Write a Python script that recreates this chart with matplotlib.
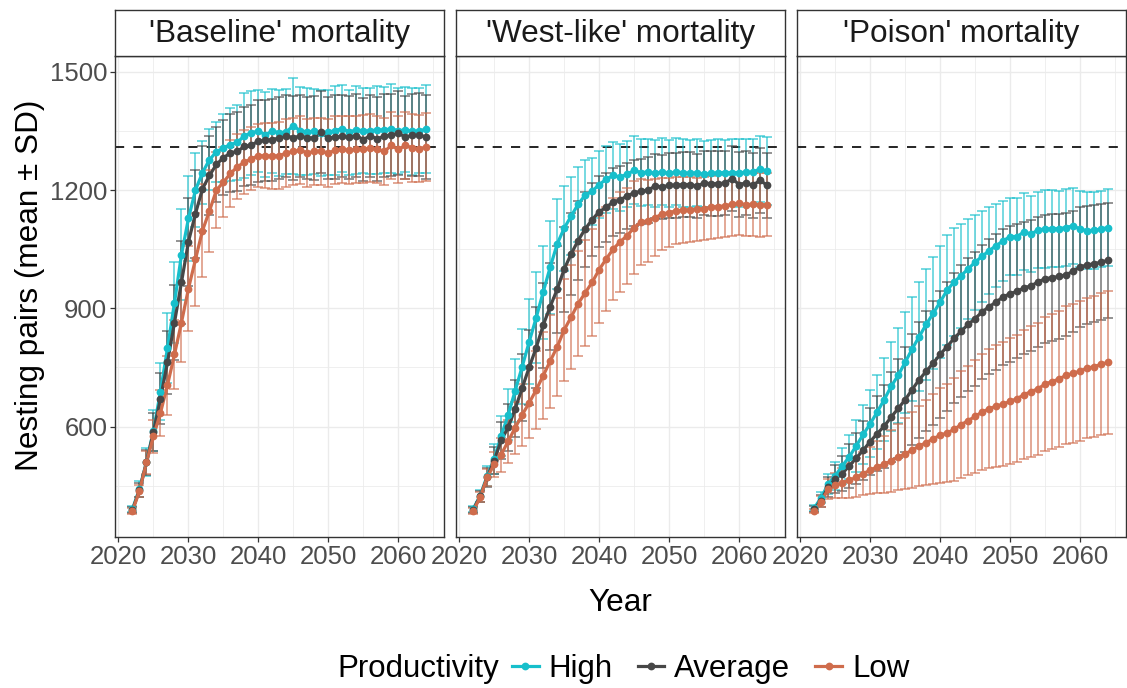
import matplotlib
matplotlib.use("Agg")
import matplotlib.pyplot as plt
from matplotlib.lines import Line2D
from matplotlib.ticker import MultipleLocator

plt.rcParams['font.family'] = ['Liberation Sans', 'DejaVu Sans']

years = list(range(2022, 2065))
panels = ["'Baseline' mortality", "'West-like' mortality", "'Poison' mortality"]
groups = ["High", "Average", "Low"]
colors = {"High": "#17BFCB", "Average": "#474747", "Low": "#CF6C4C"}
target = 1310

# ---- Baseline mortality ----
base_high = [391, 442, 510, 590, 689, 799, 914, 1036, 1128, 1200, 1244, 1277, 1297, 1307, 1315,
             1321, 1338, 1345, 1350, 1340, 1350, 1345, 1348, 1363, 1350, 1348, 1349, 1345, 1347,
             1351, 1356, 1347, 1353, 1350, 1350, 1353, 1352, 1356, 1350, 1353, 1349, 1350, 1355]
base_high_sd = [8, 20, 36, 53, 72, 88, 103, 115, 107, 94, 80, 78, 76, 86, 93, 95, 108, 106, 104,
                108, 106, 110, 108, 122, 112, 110, 108, 110, 108, 112, 110, 108, 112, 108, 110,
                112, 110, 112, 110, 108, 110, 108, 112]
base_avg = [389, 439, 509, 587, 671, 763, 864, 966, 1069, 1140, 1203, 1237, 1265, 1282, 1294,
            1298, 1311, 1314, 1324, 1326, 1328, 1332, 1338, 1332, 1338, 1332, 1332, 1346, 1332,
            1334, 1336, 1334, 1338, 1328, 1338, 1329, 1338, 1339, 1345, 1334, 1339, 1340, 1334]
base_avg_sd = [8, 18, 32, 48, 64, 80, 94, 105, 112, 112, 108, 100, 95, 95, 98, 100, 100, 102,
               104, 103, 104, 105, 104, 106, 104, 105, 106, 104, 105, 106, 104, 105, 106, 105,
               104, 106, 105, 104, 106, 105, 104, 105, 106]
base_low = [386, 437, 509, 576, 635, 705, 783, 864, 950, 1024, 1097, 1147, 1200, 1220, 1242,
            1259, 1271, 1279, 1287, 1287, 1286, 1287, 1294, 1298, 1301, 1294, 1298, 1298, 1294,
            1301, 1303, 1301, 1303, 1304, 1306, 1303, 1298, 1313, 1303, 1313, 1307, 1305, 1309]
base_low_sd = [7, 15, 28, 42, 58, 75, 88, 100, 108, 118, 118, 105, 97, 88, 85, 82, 82, 80, 80,
               82, 84, 85, 86, 85, 86, 85, 86, 85, 86, 86, 85, 86, 85, 86, 86, 85, 86, 85, 86,
               85, 86, 85, 86]

# ---- West-like mortality ----
west_high = [391, 425, 475, 519, 576, 630, 691, 752, 815, 876, 941, 1004, 1063, 1103, 1134,
             1164, 1187, 1197, 1214, 1227, 1237, 1233, 1240, 1250, 1244, 1246, 1242, 1246, 1242,
             1246, 1244, 1242, 1244, 1240, 1242, 1244, 1244, 1244, 1244, 1245, 1245, 1254, 1248]
west_high_sd = [8, 15, 25, 38, 50, 65, 80, 95, 108, 115, 118, 118, 115, 108, 100, 95, 88, 85,
                85, 84, 86, 85, 84, 86, 85, 84, 86, 85, 84, 85, 86, 84, 85, 84, 86, 85, 84, 85,
                86, 84, 85, 84, 86]
west_avg = [389, 423, 471, 514, 565, 598, 645, 698, 750, 800, 857, 904, 948, 999, 1038, 1072,
            1101, 1125, 1145, 1156, 1170, 1175, 1185, 1193, 1197, 1200, 1210, 1208, 1212, 1212,
            1214, 1214, 1210, 1218, 1216, 1216, 1218, 1229, 1214, 1218, 1212, 1225, 1212]
west_avg_sd = [7, 14, 24, 35, 47, 60, 72, 85, 95, 103, 108, 110, 110, 108, 105, 100, 95, 92,
               90, 88, 86, 85, 84, 84, 83, 83, 82, 82, 82, 82, 82, 82, 82, 82, 82, 82, 82, 82,
               82, 82, 82, 82, 82]
west_low = [386, 421, 471, 504, 529, 563, 597, 630, 660, 693, 729, 766, 802, 845, 878, 912, 939,
            966, 998, 1025, 1050, 1069, 1084, 1105, 1119, 1122, 1130, 1139, 1143, 1147, 1149,
            1150, 1151, 1153, 1156, 1158, 1160, 1164, 1166, 1163, 1164, 1162, 1163]
west_low_sd = [7, 13, 22, 32, 43, 55, 66, 78, 90, 100, 110, 118, 125, 130, 132, 134, 135, 135,
               135, 133, 130, 127, 122, 117, 110, 104, 98, 92, 88, 85, 83, 82, 80, 80, 80, 80,
               80, 80, 80, 80, 80, 80, 80]

# ---- Poison mortality ----
pois_high = [393, 420, 454, 475, 500, 523, 551, 580, 607, 637, 668, 702, 730, 763, 797, 828, 859,
             887, 916, 946, 967, 983, 1000, 1017, 1032, 1046, 1059, 1071, 1082, 1082, 1094, 1088,
             1099, 1101, 1102, 1102, 1105, 1109, 1101, 1097, 1098, 1101, 1105]
pois_high_sd = [8, 15, 25, 35, 45, 55, 65, 75, 85, 95, 105, 112, 120, 128, 133, 138, 140, 142,
                142, 140, 136, 132, 126, 120, 115, 110, 106, 102, 98, 97, 98, 97, 96, 98, 97, 96,
                98, 97, 96, 98, 97, 96, 97]
pois_avg = [391, 412, 447, 467, 481, 500, 520, 540, 562, 582, 601, 624, 646, 668, 694, 719, 740,
            761, 783, 803, 824, 842, 859, 874, 891, 904, 916, 929, 937, 943, 952, 957, 967, 975,
            978, 981, 985, 994, 1005, 1010, 1013, 1017, 1022]
pois_avg_sd = [7, 15, 25, 35, 45, 55, 65, 75, 85, 95, 105, 115, 125, 133, 140, 147, 152, 157,
               160, 163, 165, 167, 168, 170, 170, 171, 172, 172, 172, 170, 168, 166, 164, 162,
               160, 158, 156, 154, 152, 150, 148, 147, 146]
pois_low = [386, 410, 441, 451, 458, 464, 471, 481, 489, 498, 504, 513, 523, 531, 540, 551, 559,
            569, 578, 584, 593, 605, 615, 626, 637, 645, 652, 657, 664, 671, 681, 689, 696, 708,
            714, 721, 730, 735, 741, 748, 752, 758, 763]
pois_low_sd = [6, 15, 25, 32, 38, 44, 50, 55, 60, 66, 72, 78, 84, 90, 96, 102, 108, 114, 120,
               125, 130, 135, 139, 143, 147, 151, 154, 157, 160, 162, 164, 166, 168, 170, 172,
               173, 175, 176, 177, 178, 179, 180, 181]

data = [
    {"High": (base_high, base_high_sd), "Average": (base_avg, base_avg_sd), "Low": (base_low, base_low_sd)},
    {"High": (west_high, west_high_sd), "Average": (west_avg, west_avg_sd), "Low": (west_low, west_low_sd)},
    {"High": (pois_high, pois_high_sd), "Average": (pois_avg, pois_avg_sd), "Low": (pois_low, pois_low_sd)},
]

W, H = 1127, 688
fig = plt.figure(figsize=(W / 100, H / 100), dpi=100)

panel_lefts = [115, 455.7, 796.7]
panel_w = 329.2
p_top, p_bot = 56, 537
s_top = 10

border = "#333333"
grid_c = "#EBEBEB"
tick_c = "#4D4D4D"

for i, (name, d) in enumerate(zip(panels, data)):
    x0 = panel_lefts[i]
    ax = fig.add_axes([x0 / W, 1 - p_bot / H, panel_w / W, (p_bot - p_top) / H])
    ax.set_xlim(2019.5, 2066.55)
    ax.set_ylim(320, 1540)
    ax.xaxis.set_major_locator(MultipleLocator(10))
    ax.xaxis.set_minor_locator(MultipleLocator(5))
    ax.yaxis.set_major_locator(MultipleLocator(300))
    ax.yaxis.set_minor_locator(MultipleLocator(150))
    ax.grid(which="major", color=grid_c, lw=1.0, zorder=0)
    ax.grid(which="minor", color=grid_c, lw=0.55, zorder=0)
    ax.set_axisbelow(True)
    for sp in ax.spines.values():
        sp.set_color(border)
        sp.set_linewidth(1.0)
    ax.tick_params(which="major", length=3.5, width=0.9, color=border, labelsize=18.5,
                   labelcolor=tick_c, pad=2)
    ax.tick_params(which="minor", length=0)
    if i > 0:
        ax.tick_params(axis="y", labelleft=False, length=0)

    ax.axhline(target, color="black", lw=1.2, ls=(0, (5.5, 5.5)), zorder=2)

    for g in groups:
        m, s = d[g]
        ax.errorbar(years, m, yerr=s, fmt="none", ecolor=colors[g], alpha=0.75,
                    elinewidth=1.1, capsize=3.5, capthick=1.1, zorder=3)
    for g in groups:
        m, s = d[g]
        ax.plot(years, m, "-", color=colors[g], lw=2.3, zorder=4)
    for g in groups:
        m, s = d[g]
        ax.plot(years, m, "o", color=colors[g], ms=5.6, mew=0, zorder=5)

    # strip
    sax = fig.add_axes([x0 / W, 1 - p_top / H, panel_w / W, (p_top - s_top) / H])
    sax.set_xticks([])
    sax.set_yticks([])
    sax.set_facecolor("white")
    for sp in sax.spines.values():
        sp.set_color(border)
        sp.set_linewidth(1.0)
    sax.text(0.5, 0.47, name, ha="center", va="center", fontsize=22.7, color="#1A1A1A",
             transform=sax.transAxes)

fig.text(620 / W, 1 - 603 / H, "Year", ha="center", va="center", fontsize=22.7, color="black")
fig.text(30 / W, 1 - 285 / H, "Nesting pairs (mean ± SD)", ha="center", va="center",
         rotation=90, fontsize=22.7, color="black")

# legend
fig.text(337 / W, 1 - 669 / H, "Productivity", ha="left", va="center", fontsize=22.5,
         color="black")
handles = [Line2D([0], [0], color=colors[g], lw=2.3, marker="o", ms=5.6, mew=0) for g in groups]
fig.legend(handles, groups, loc="center left", bbox_to_anchor=(512 / W, 1 - 669 / H),
           ncol=3, frameon=False, fontsize=22.5, handlelength=0.85, handletextpad=0.32,
           columnspacing=0.8, borderaxespad=0, borderpad=0)

fig.savefig("out.png", dpi=100, facecolor="white")
